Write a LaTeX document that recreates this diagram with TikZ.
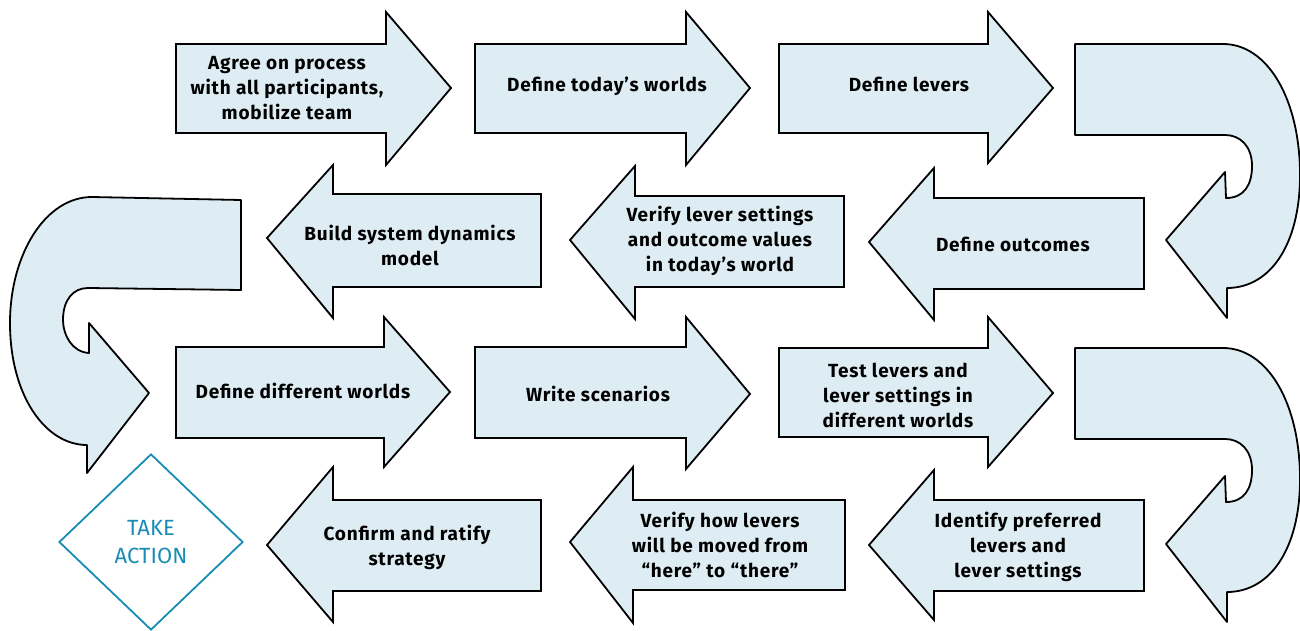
\documentclass[tikz,border=0pt]{standalone}
\usepackage{fontspec}
\setmainfont{Fira Sans}
\usetikzlibrary{shapes.geometric}

\definecolor{arrowfill}{RGB}{222,237,244}
\definecolor{actionblue}{RGB}{24,140,180}

% block arrow: x of tail end, body top/bottom, head base x, head top/bottom, tip
\newcommand{\blockarrow}[8]{%
  \filldraw[arrowshape] (#1,#2) -- (#4,#2) -- (#4,#5) -- (#7,#8) -- (#4,#6) -- (#4,#3) -- (#1,#3) -- cycle;}

\begin{document}
\begin{tikzpicture}[x=1pt,y=-1pt,
  arrowshape/.style={fill=arrowfill, draw=black, line width=1.8pt, line join=miter},
  steptext/.style={align=center, inner sep=0pt,
    font=\fontsize{19}{25}\selectfont\bfseries\addfontfeature{LetterSpace=4}},
  uturn/.style={fill=arrowfill, draw=black, line width=1.8pt, line join=round}]
\useasboundingbox (0,0) rectangle (1300,631);

% row 1, pointing right
\blockarrow{176}{44}{133}{386}{12}{165}{451}{88}
\blockarrow{475}{44}{133}{686}{12}{165}{750}{88}
\blockarrow{779}{44}{133}{988}{12}{163}{1053}{88}
% row 2, pointing left
\blockarrow{541}{194}{287}{333}{165}{318}{267}{238}
\blockarrow{844}{196}{287}{635}{166}{319}{570}{240}
\blockarrow{1144}{198}{289}{934}{168}{320}{869}{242}
% row 3, pointing right
\blockarrow{176}{347}{438}{384}{317}{467}{450}{392}
\blockarrow{475}{347}{438}{686}{317}{469}{750}{394}
\blockarrow{779}{348}{437}{988}{317}{467}{1053}{393}
% row 4, pointing left
\blockarrow{541}{500}{591}{333}{467}{622}{267}{545}
\blockarrow{845}{500}{590}{633}{467}{623}{570}{542}
\blockarrow{1144}{500}{591}{934}{470}{620}{869}{545}

% U-turns on the right
\foreach \dy in {0,304}{
\begin{scope}[shift={(0,\dy)}]
\filldraw[uturn] (1075,44) -- (1223,44)
  .. controls (1268,44) and (1300,100) .. (1300,175)
  .. controls (1300,245) and (1270,288) .. (1227,288)
  -- (1227,318) -- (1166,240) -- (1225,172) -- (1226,198)
  .. controls (1244,198) and (1252,185) .. (1252,166)
  .. controls (1252,146) and (1240,135) .. (1225,135)
  -- (1075,135) -- cycle;
\end{scope}}

% U-turn on the left
\filldraw[uturn] (241,200) -- (92,197)
  .. controls (45,197) and (10,255) .. (10,323)
  .. controls (10,395) and (45,445) .. (87,445)
  -- (87,473) -- (149,393) -- (89,323) -- (89,353)
  .. controls (72,352) and (63,335) .. (63,320)
  .. controls (63,300) and (73,288) .. (88,288)
  -- (241,290) -- cycle;

% step labels
\node[steptext] (agree) at (287,88) {Agree on process\\with all participants,\\mobilize team};
\node[steptext] (today) at (607,86) {Define today’s worlds};
\node[steptext] (levers) at (909,84) {Define levers};
\node[steptext] (model) at (410,245) {Build system dynamics\\model};
\node[steptext] (verify) at (720,241) {Verify lever settings\\and outcome values\\in today’s world};
\node[steptext] (outcomes) at (1013,244) {Define outcomes};
\node[steptext] (worlds) at (303,391) {Define different worlds};
\node[steptext] (scenarios) at (598,394) {Write scenarios};
\node[steptext] (test) at (898,395) {Test levers and\\lever settings in\\different worlds};
\node[steptext] (ratify) at (407,547) {Confirm and ratify\\strategy};
\node[steptext] (moved) at (720,545) {Verify how levers\\will be moved from\\“here” to “there”};
\node[steptext] (preferred) at (1018,547) {Identify preferred\\levers and\\lever settings};

% final step
\node[diamond, draw=actionblue, line width=1.8pt, minimum width=184pt, minimum height=176pt,
  inner sep=0pt, text=actionblue, align=center, font=\fontsize{22}{28}\selectfont] (action) at (151,542) {TAKE\\ACTION};
\end{tikzpicture}
\end{document}
